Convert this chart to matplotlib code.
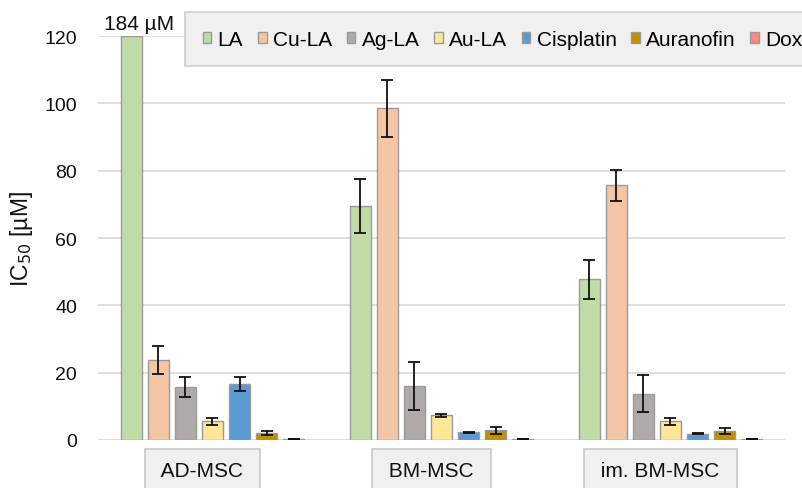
import matplotlib
matplotlib.use("Agg")
import matplotlib.pyplot as plt
import matplotlib.transforms as mtransforms
import numpy as np

plt.rcParams["font.family"] = ["Liberation Sans", "DejaVu Sans"]
plt.rcParams["font.size"] = 14

# data
cells = ["AD-MSC", "BM-MSC", "im. BM-MSC"]
compounds = ["LA", "Cu-LA", "Ag-LA", "Au-LA", "Cisplatin", "Auranofin", "Dox"]
ic50 = {
    "LA":        [184.0, 69.5, 47.8],
    "Cu-LA":     [23.8, 98.5, 75.6],
    "Ag-LA":     [15.8, 16.0, 13.7],
    "Au-LA":     [5.5, 7.3, 5.5],
    "Cisplatin": [16.6, 2.3, 1.9],
    "Auranofin": [2.1, 2.9, 2.6],
    "Dox":       [0.2, 0.2, 0.2],
}
err = {
    "LA":        [0.0, 8.1, 5.8],
    "Cu-LA":     [4.2, 8.5, 4.6],
    "Ag-LA":     [2.9, 7.2, 5.5],
    "Au-LA":     [1.0, 0.4, 0.9],
    "Cisplatin": [2.0, 0.2, 0.1],
    "Auranofin": [0.7, 1.0, 0.9],
    "Dox":       [0.05, 0.05, 0.05],
}
colors = ["#c0dca6", "#f5c6a5", "#aeaaaa", "#ffe699", "#5b9bd5", "#bf9000", "#ff8585"]
ymax = 120

fig = plt.figure(figsize=(8.03, 4.89), dpi=100)
ax = fig.add_axes([98 / 803, 1 - 441 / 489, 687 / 803, 404 / 489])

x = np.arange(len(cells))
step = 0.118
width = 0.092
for j, name in enumerate(compounds):
    vals = np.array(ic50[name])
    shown = np.minimum(vals, ymax)
    e = np.array(err[name])
    pos = x + (j - 3) * step
    ax.bar(pos, shown, width, color=colors[j], edgecolor="#9a9a9a",
           linewidth=1.0, label=name, zorder=2)
    ax.errorbar(pos, shown, yerr=np.where(e > 0, e, np.nan), fmt="none",
                ecolor="#111111", elinewidth=1.3, capsize=4, capthick=1.3,
                zorder=3)
    # label for clipped bars
    for k in range(len(cells)):
        if vals[k] > ymax:
            ax.text(pos[k] + 0.035, ymax + 0.8, f"{vals[k]:g} µM",
                    ha="center", va="bottom", fontsize=15, color="#111111")

ax.set_xlim(-0.5, 2.5)
ax.set_ylim(0, ymax)
ax.set_yticks(np.arange(0, ymax + 1, 20))
ax.yaxis.grid(True, color="#d9d9d9", linewidth=1.2, zorder=0)
ax.set_axisbelow(True)
for s in ax.spines.values():
    s.set_visible(False)
ax.tick_params(axis="y", length=0, pad=15, labelsize=14, colors="#111111")
ax.set_xticks([])
ax.set_ylabel("IC$_{50}$ [µM]", fontsize=16.5, labelpad=7, color="#111111")

# category labels in boxes (slightly left of the group centre, as in the original)
trans = mtransforms.blended_transform_factory(ax.transData, ax.transAxes)
for k, c in enumerate(cells):
    ax.text(x[k] - 0.044, -0.075, " " + c + " ", transform=trans,
            ha="center", va="center", fontsize=15, color="#111111",
            bbox=dict(boxstyle="square,pad=0.55", facecolor="#f0f0f0",
                      edgecolor="#c8c8c8", linewidth=1.2))

leg = fig.legend(loc="upper left", bbox_to_anchor=(185 / 803, 1 - 13 / 489),
                 ncol=len(compounds), frameon=True, fancybox=False,
                 fontsize=15, handlelength=0.42, handleheight=0.42,
                 handletextpad=0.3, columnspacing=0.7, borderpad=0.85,
                 borderaxespad=0)
leg.get_frame().set_facecolor("#f0f0f0")
leg.get_frame().set_edgecolor("#cfcfcf")
leg.get_frame().set_linewidth(1.2)
leg.get_frame().set_alpha(1)

fig.savefig("out.png", dpi=100)
